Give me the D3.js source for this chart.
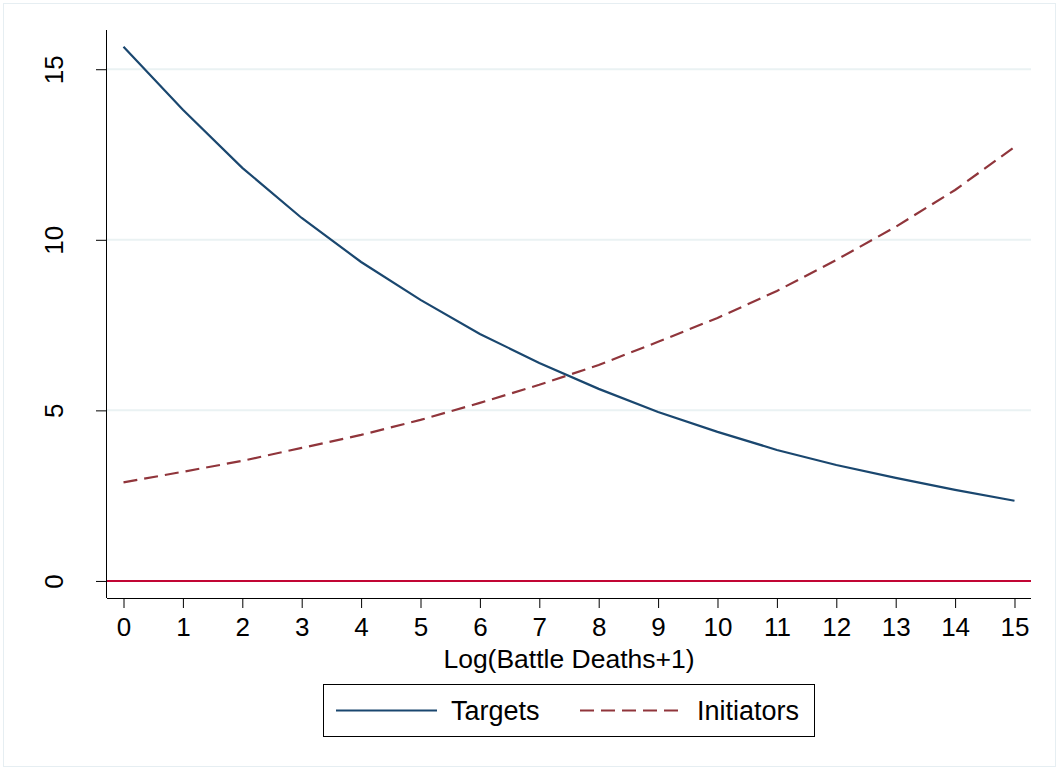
<!DOCTYPE html>
<html>
<head>
<meta charset="utf-8">
<script src="https://cdn.jsdelivr.net/npm/d3@7"></script>
<style>
  body { margin: 0; background: #fff; }
  svg text { font-family: "Liberation Sans", Arial, sans-serif; fill: #000; }
</style>
</head>
<body>
<div id="chart"></div>
<script>
// Log(Battle Deaths+1) vs predicted values, targets and initiators

const xTicks = [0, 1, 2, 3, 4, 5, 6, 7, 8, 9, 10, 11, 12, 13, 14, 15];
const yTicks = [0, 5, 10, 15];
const gridTicks = [5, 10, 15];

const targets = [15.66, 13.81, 12.11, 10.64, 9.35, 8.24, 7.24, 6.39, 5.63, 4.95, 4.37, 3.84, 3.40, 3.02, 2.67, 2.35];
const initiators = [2.89, 3.20, 3.52, 3.90, 4.28, 4.72, 5.22, 5.75, 6.33, 7.01, 7.71, 8.50, 9.41, 10.38, 11.46, 12.72];

const seriesNames = ["Targets", "Initiators"];
const xTitle = "Log(Battle Deaths+1)";

const W = 1060, H = 770;
const navy = "#1a476f", maroon = "#90353b", red = "#c10534", grid = "#eaf2f3";

const svg = d3.select("#chart").append("svg")
  .attr("width", W)
  .attr("height", H);

svg.append("rect")
  .attr("x", 3.5).attr("y", 3.5)
  .attr("width", W - 8).attr("height", H - 7)
  .attr("fill", "#fff")
  .attr("stroke", "#e6eef2")
  .attr("stroke-width", 1);

const plot = { left: 107, right: 1031, top: 30, bottom: 598 };

const x = d3.scaleLinear()
  .domain([-0.2778, 15.2778])
  .range([plot.left, plot.right]);

const y = d3.scaleLinear()
  .domain([-0.5, 16.15])
  .range([plot.bottom, plot.top]);

// gridlines
svg.append("g")
  .selectAll("line")
  .data(gridTicks)
  .join("line")
  .attr("x1", plot.left).attr("x2", plot.right)
  .attr("y1", (d) => y(d)).attr("y2", (d) => y(d))
  .attr("stroke", grid)
  .attr("stroke-width", 2);

// zero reference line
svg.append("line")
  .attr("x1", plot.left).attr("x2", plot.right)
  .attr("y1", y(0)).attr("y2", y(0))
  .attr("stroke", red)
  .attr("stroke-width", 2);

// axes
const xAxis = svg.append("g")
  .attr("transform", `translate(0,${plot.bottom})`)
  .call(d3.axisBottom(x).tickValues(xTicks).tickSize(10).tickPadding(10).tickSizeOuter(0));
xAxis.select(".domain").attr("stroke", "#000").attr("d", `M${plot.left},0.5H${plot.right}`);
xAxis.selectAll(".tick line").attr("stroke", "#000");
xAxis.selectAll(".tick text").style("font-size", "26px").attr("fill", "#000");

const yAxis = svg.append("g")
  .attr("transform", `translate(${plot.left},0)`)
  .call(d3.axisLeft(y).tickValues(yTicks).tickSize(11).tickSizeOuter(0));
yAxis.select(".domain").attr("stroke", "#000").attr("d", `M-0.5,${plot.top}V${plot.bottom}`);
yAxis.selectAll(".tick line").attr("stroke", "#000");
yAxis.selectAll(".tick text")
  .style("font-size", "26px")
  .attr("fill", "#000")
  .attr("text-anchor", "middle")
  .attr("x", 0)
  .attr("dy", 0)
  .attr("transform", "translate(-44,0) rotate(-90)");

svg.append("text")
  .attr("x", (plot.left + plot.right) / 2)
  .attr("y", 668)
  .attr("text-anchor", "middle")
  .style("font-size", "26.5px")
  .text(xTitle);

// lines
const line = d3.line()
  .x((d, i) => x(xTicks[i]))
  .y((d) => y(d));

svg.append("path")
  .datum(targets)
  .attr("d", line)
  .attr("fill", "none")
  .attr("stroke", navy)
  .attr("stroke-width", 2.2);

svg.append("path")
  .datum(initiators)
  .attr("d", line)
  .attr("fill", "none")
  .attr("stroke", maroon)
  .attr("stroke-width", 2.2)
  .attr("stroke-dasharray", "14,7");

// legend
const legend = svg.append("g");
legend.append("rect")
  .attr("x", 323.5).attr("y", 684.5)
  .attr("width", 491).attr("height", 52)
  .attr("fill", "#fff")
  .attr("stroke", "#000")
  .attr("stroke-width", 1);

const legendItems = [
  { name: seriesNames[0], color: navy, dash: null, x0: 336, tx: 451 },
  { name: seriesNames[1], color: maroon, dash: "14,7", x0: 580, tx: 697 }
];

legendItems.forEach((d) => {
  legend.append("line")
    .attr("x1", d.x0).attr("x2", d.x0 + 101)
    .attr("y1", 710.5).attr("y2", 710.5)
    .attr("stroke", d.color)
    .attr("stroke-width", 2.2)
    .attr("stroke-dasharray", d.dash);
  legend.append("text")
    .attr("x", d.tx)
    .attr("y", 720)
    .style("font-size", "27px")
    .text(d.name);
});
</script>
</body>
</html>
